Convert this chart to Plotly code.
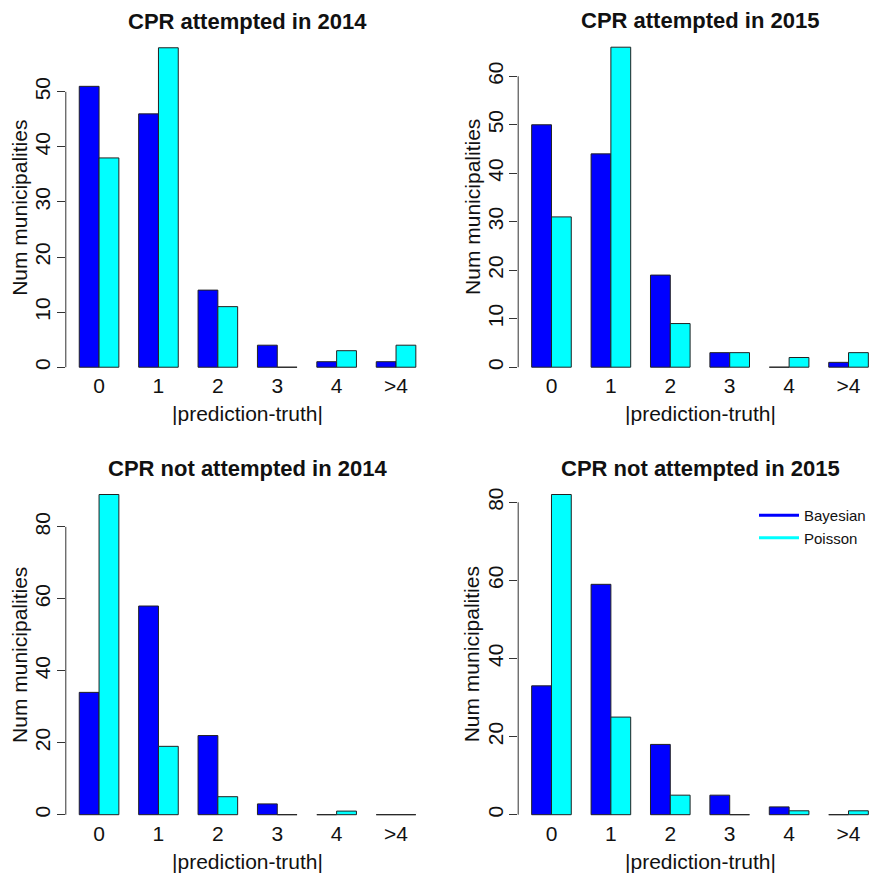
import plotly.graph_objects as go
from plotly.subplots import make_subplots

# ---------------- data ----------------
categories = ["0", "1", "2", "3", "4", ">4"]
series_names = ["Bayesian", "Poisson"]
panel_titles = ["CPR attempted in 2014", "CPR attempted in 2015",
                "CPR not attempted in 2014", "CPR not attempted in 2015"]

bayes_att_2014 = [51, 46, 14, 4, 1, 1]
poisson_att_2014 = [38, 58, 11, 0, 3, 4]
bayes_att_2015 = [50, 44, 19, 3, 0, 1]
poisson_att_2015 = [31, 66, 9, 3, 2, 3]
bayes_not_2014 = [34, 58, 22, 3, 0, 0]
poisson_not_2014 = [89, 19, 5, 0, 1, 0]
bayes_not_2015 = [33, 59, 18, 5, 2, 0]
poisson_not_2015 = [82, 25, 5, 0, 1, 1]

yticks_att_2014 = [0, 10, 20, 30, 40, 50]
yticks_att_2015 = [0, 10, 20, 30, 40, 50, 60]
yticks_not_2014 = [0, 20, 40, 60, 80]
yticks_not_2015 = [0, 20, 40, 60, 80]

x_title = "|prediction-truth|"
y_title = "Num municipalities"

# ---------------- styling / layout ----------------
W, H = 875, 875
COL_B = "#0000FF"
COL_P = "#00FFFF"
FONT = "Arial, Liberation Sans, Helvetica, sans-serif"
AX = "#333333"

# pixel boxes of each plot region: left, right(full), top, bottom
boxes = [
    (65.8, 429.3, 35.0, 380.0),
    (518.2, 881.8, 34.4, 380.0),
    (65.8, 429.3, 481.7, 827.5),
    (518.2, 881.8, 481.7, 827.5),
]
panels = [
    (bayes_att_2014, poisson_att_2014, yticks_att_2014),
    (bayes_att_2015, poisson_att_2015, yticks_att_2015),
    (bayes_not_2014, poisson_not_2014, yticks_not_2014),
    (bayes_not_2015, poisson_not_2015, yticks_not_2015),
]

fig = make_subplots(rows=2, cols=2)

XR0, XR1 = -0.56, 5.56
layout_upd = {}
shapes = []
annotations = []
for i, ((b, p, yt), (L, R, T, B)) in enumerate(zip(panels, boxes)):
    row, col = i // 2 + 1, i % 2 + 1
    fig.add_trace(go.Bar(x=categories, y=b, name=series_names[0], marker_color=COL_B,
                         marker_line=dict(color="#222222", width=1), showlegend=False),
                  row=row, col=col)
    fig.add_trace(go.Bar(x=categories, y=p, name=series_names[1], marker_color=COL_P,
                         marker_line=dict(color="#222222", width=1), showlegend=False),
                  row=row, col=col)
    Rc = min(R, W)
    xr1 = XR0 + (XR1 - XR0) * (Rc - L) / (R - L)
    ymax = max(max(b), max(p))
    sfx = "" if i == 0 else str(i + 1)
    layout_upd["xaxis" + sfx] = dict(
        domain=[L / W, Rc / W], range=[XR0, xr1], showline=False, showgrid=False,
        zeroline=False, ticks="", tickfont=dict(size=21, color="#111111", family=FONT),
        ticklabelstandoff=-9, fixedrange=True)
    layout_upd["yaxis" + sfx] = dict(
        domain=[1 - B / H, 1 - T / H], range=[-0.04 * ymax, 1.04 * ymax],
        tickvals=yt, ticktext=[str(v) for v in yt], tickangle=-90,
        ticks="outside", ticklen=8, tickwidth=1, tickcolor=AX,
        showline=False, showgrid=False, zeroline=False, ticklabelstandoff=-2,
        tickfont=dict(size=21, color="#111111", family=FONT))
    xref = "x" + sfx
    yref = "y" + sfx
    shapes.append(dict(type="line", xref=xref + " domain", yref=yref,
                       x0=0, x1=0, y0=yt[0], y1=yt[-1],
                       line=dict(color=AX, width=1)))
    cx = (L + R) / 2
    annotations.append(dict(text="<b>" + panel_titles[i] + "</b>", xref="paper", yref="paper",
                            x=cx / W, y=1 - (T - 13.5) / H, xanchor="center", yanchor="middle",
                            showarrow=False, font=dict(size=22, color="#111111", family=FONT)))
    annotations.append(dict(text=x_title, xref="paper", yref="paper",
                            x=cx / W, y=1 - (B + 33.5) / H, xanchor="center", yanchor="middle",
                            showarrow=False, font=dict(size=21, color="#111111", family=FONT)))
    annotations.append(dict(text=y_title, xref="paper", yref="paper", textangle=-90,
                            x=(L - 46.5) / W, y=1 - (T + B) / 2 / H, xanchor="center", yanchor="middle",
                            showarrow=False, font=dict(size=21, color="#111111", family=FONT)))

# legend entries (line keys)
for name, col in zip(series_names, [COL_B, COL_P]):
    fig.add_trace(go.Scatter(x=[None], y=[None], mode="lines", name=name,
                             line=dict(color=col, width=3), showlegend=True),
                  row=2, col=2)

fig.update_layout(**layout_upd)
fig.update_layout(
    width=W, height=H, margin=dict(l=0, r=0, t=0, b=0),
    paper_bgcolor="white", plot_bgcolor="white",
    barmode="group", bargap=1 / 3, bargroupgap=0,
    shapes=shapes, annotations=annotations,
    font=dict(family=FONT, color="#111111"),
    legend=dict(x=754 / W, y=1 - 499 / H, xanchor="left", yanchor="top",
                font=dict(size=15, family=FONT, color="#111111"),
                bgcolor="rgba(0,0,0,0)", itemwidth=40, tracegroupgap=0),
)

fig.write_html(
    "out.html",
    config={"displayModeBar": False},
    post_script="document.body.style.margin='0';document.body.style.padding='0';"
                "document.documentElement.style.overflow='hidden';document.body.style.overflow='hidden';",
)
